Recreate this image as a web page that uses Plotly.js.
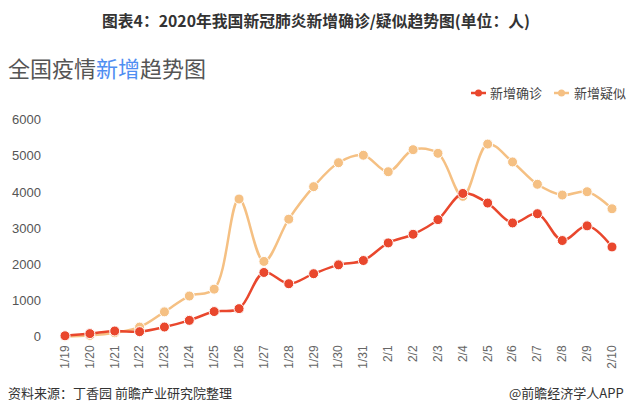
<!DOCTYPE html>
<html>
<head>
<meta charset="utf-8">
<script src="https://cdn.plot.ly/plotly-3.0.1.min.js"></script>
<style>
html,body{margin:0;padding:0;background:#fff;}
#chart{width:632px;height:413px;}
</style>
</head>
<body>
<div id="chart"></div>
<script>
const dates = ["1/19","1/20","1/21","1/22","1/23","1/24","1/25","1/26","1/27","1/28","1/29","1/30","1/31","2/1","2/2","2/3","2/4","2/5","2/6","2/7","2/8","2/9","2/10"];
const confirmed = [17,77,149,131,259,444,688,769,1771,1459,1737,1982,2102,2590,2829,3235,3960,3694,3143,3399,2656,3062,2478];
const suspected = [0,27,100,257,680,1118,1309,3806,2077,3248,4148,4812,5019,4562,5173,5072,3880,5328,4833,4214,3916,4008,3536];
const yTicks = [0,1000,2000,3000,4000,5000,6000];
const seriesNames = ['新增确诊', '新增疑似'];

const fontCJK = '"Noto Sans CJK SC", "Noto Sans", sans-serif';
const red = '#e9472d';
const orange = '#f5c083';

const traces = [
  {
    x: dates, y: suspected, name: seriesNames[1], type: 'scatter', mode: 'lines+markers',
    line: {color: orange, width: 2.5, shape: 'spline', smoothing: 1},
    marker: {color: orange, size: 10, line: {color: '#fff', width: 1}},
    cliponaxis: false, showlegend: false
  },
  {
    x: dates, y: confirmed, name: seriesNames[0], type: 'scatter', mode: 'lines+markers',
    line: {color: red, width: 2.5, shape: 'spline', smoothing: 1},
    marker: {color: red, size: 10, line: {color: '#fff', width: 1}},
    cliponaxis: false, showlegend: false
  }
];

const plotTop = 109, plotH = 413 - 109 - 73, plotL = 50, plotW = 632 - 50 - 10;
function py(yPix){ return (plotTop + plotH - yPix) / plotH; }
function px(xPix){ return (xPix - plotL) / plotW; }

const layout = {
  width: 632, height: 413,
  margin: {l: 50, r: 10, t: 109, b: 73},
  paper_bgcolor: '#fff', plot_bgcolor: '#fff',
  showlegend: false,
  xaxis: {
    type: 'category', categoryorder: 'array', categoryarray: dates,
    range: [-0.603, 22.402],
    showgrid: false, zeroline: false, showline: false,
    tickangle: -90, ticks: '',
    tickfont: {family: '"Liberation Sans", Arial, sans-serif', size: 12, color: '#666'},
    ticklabelstandoff: 2,
    fixedrange: true
  },
  yaxis: {
    range: [-100, 6300],
    tickvals: yTicks, ticktext: yTicks.map(String),
    showgrid: false, zeroline: false, showline: false, ticks: '',
    tickfont: {family: '"Liberation Sans", Arial, sans-serif', size: 13, color: '#555'},
    ticklabelstandoff: 8,
    fixedrange: true
  },
  annotations: [
    {
      text: '<b>图表4：2020年我国新冠肺炎新增确诊/疑似趋势图(单位：人)</b>',
      xref: 'paper', yref: 'paper', x: px(316), y: py(20), xanchor: 'center', yanchor: 'middle', showarrow: false,
      font: {family: fontCJK, size: 15.8, color: '#333'}
    },
    {
      text: '全国疫情<span style="color:#4f8ef2">新增</span>趋势图',
      xref: 'paper', yref: 'paper', x: px(6), y: py(67), xanchor: 'left', yanchor: 'middle', showarrow: false,
      font: {family: fontCJK, size: 22, color: '#555'}
    },
    {
      text: '资料来源：丁香园 前瞻产业研究院整理',
      xref: 'paper', yref: 'paper', x: px(6), y: py(392), xanchor: 'left', yanchor: 'middle', showarrow: false,
      font: {family: fontCJK, size: 13, color: '#333'}
    },
    {
      text: '@前瞻经济学人APP',
      xref: 'paper', yref: 'paper', x: px(626), y: py(392), xanchor: 'right', yanchor: 'middle', showarrow: false,
      font: {family: fontCJK, size: 13, color: '#333'}
    },
    {
      text: seriesNames[0],
      xref: 'paper', yref: 'paper', x: px(488), y: py(93), xanchor: 'left', yanchor: 'middle', showarrow: false,
      font: {family: fontCJK, size: 13, color: '#444'}
    },
    {
      text: seriesNames[1],
      xref: 'paper', yref: 'paper', x: px(572), y: py(93), xanchor: 'left', yanchor: 'middle', showarrow: false,
      font: {family: fontCJK, size: 13, color: '#444'}
    }
  ],
  shapes: []
};

// legend icons (line + dot)
[[471, red], [554, orange]].forEach(function(item){
  const x0 = item[0], c = item[1];
  layout.shapes.push({type: 'line', xref: 'paper', yref: 'paper',
    x0: px(x0), x1: px(x0 + 15), y0: py(93), y1: py(93), line: {color: c, width: 2.5}});
  layout.shapes.push({type: 'circle', xref: 'paper', yref: 'paper',
    x0: px(x0 + 4), x1: px(x0 + 11), y0: py(96.5), y1: py(89.5), fillcolor: c, line: {color: c, width: 0}});
});

Plotly.newPlot('chart', traces, layout, {staticPlot: true, displayModeBar: false});
</script>
</body>
</html>
